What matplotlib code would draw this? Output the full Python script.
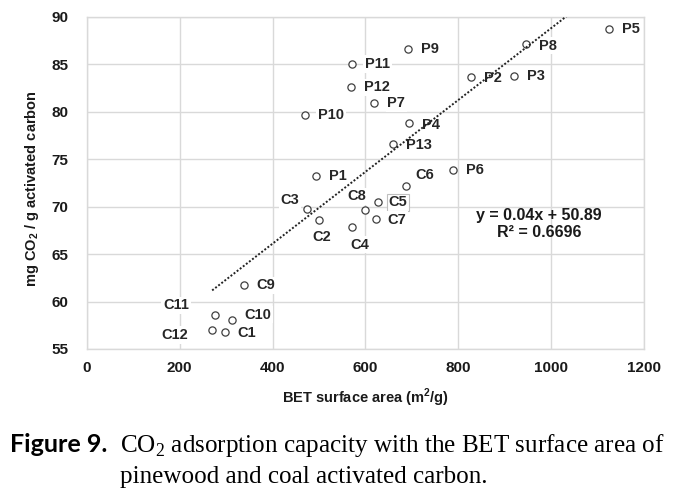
import numpy as np
import matplotlib
matplotlib.use("Agg")
import matplotlib.pyplot as plt

plt.rcParams['mathtext.fontset'] = 'custom'
plt.rcParams['mathtext.rm'] = 'Liberation Serif'
plt.rcParams['mathtext.bf'] = 'Liberation Sans:bold'
plt.rcParams['font.family'] = ['Liberation Sans', 'DejaVu Sans']

# ---- data ----
labels = ["P1", "P2", "P3", "P4", "P5", "P6", "P7", "P8", "P9", "P10", "P11", "P12", "P13",
          "C1", "C2", "C3", "C4", "C5", "C6", "C7", "C8", "C9", "C10", "C11", "C12"]
bet_area = [493, 826, 919, 694, 1123, 789, 619, 946, 691, 470, 571, 568, 659,
            298, 501, 474, 570, 626, 688, 623, 600, 338, 312, 276, 270]
co2_capacity = [73.25, 83.6, 83.8, 78.8, 88.7, 73.85, 80.9, 87.1, 86.55, 79.6, 85.0, 82.55, 76.6,
                56.8, 68.6, 69.7, 67.9, 70.45, 72.15, 68.7, 69.6, 61.7, 58.1, 58.55, 57.0]
x_ticks = [0, 200, 400, 600, 800, 1000, 1200]
y_ticks = [55, 60, 65, 70, 75, 80, 85, 90]
equation_text = "y = 0.04x + 50.89\nR\u00b2 = 0.6696"

# label placement (offset in pixels, alignment)
default_off = (13, 0, 'left')
label_off = {
    "P2": (13, -1, 'left'), "P4": (13, -1.5, 'left'), "P13": (13, -1.5, 'left'),
    "P8": (13, -1.5, 'left'),
    "C6": (18, 11, 'center'), "C3": (-17, 9, 'center'), "C2": (2, -17, 'center'),
    "C8": (-9, 14, 'center'), "C4": (8, -18, 'center'), "C11": (-39, 10, 'center'),
    "C12": (-37, -5, 'center'), "C10": (13, 5, 'left'), "C5": (11, 0, 'left'),
    "C7": (11, -1, 'left'), "C1": (12, -1, 'left'),
}

W, H = 687, 493
fig = plt.figure(figsize=(W / 100, H / 100), dpi=100)
ax = fig.add_axes([86.7 / W, 1 - 349 / H, (644.3 - 86.7) / W, (349 - 16.7) / H])

grid_c = '#d9d9d9'
ax.set_xlim(0, 1200)
ax.set_ylim(55, 90)
ax.set_xticks(x_ticks)
ax.set_yticks(y_ticks)
ax.grid(True, color=grid_c, lw=1.0, zorder=0)
ax.set_axisbelow(True)
for s in ax.spines.values():
    s.set_color(grid_c)
    s.set_linewidth(1.0)
ax.tick_params(length=0, labelsize=11, pad=9, labelcolor='#1a1a1a')
ax.tick_params(axis='y', pad=13)
for t in ax.get_xticklabels() + ax.get_yticklabels():
    t.set_fontweight('bold')

ax.plot(bet_area, co2_capacity, linestyle='none', marker='o', ms=5.2,
        mfc='white', mec='#404040', mew=0.9, zorder=3)

# trendline
slope, intercept = np.polyfit(bet_area, co2_capacity, 1)
xs = np.array([min(bet_area), max(bet_area)])
ax.plot(xs, slope * xs + intercept, color='#222222', lw=1.4,
        linestyle=(0, (1, 1.0)), zorder=5)

for lab, xv, yv in zip(labels, bet_area, co2_capacity):
    dx, dy, ha = label_off.get(lab, default_off)
    edge = '#bfbfbf' if lab == "C5" else 'none'
    ax.annotate(lab, (xv, yv), xytext=(dx, dy), textcoords='offset pixels',
                ha=ha, va='center', fontsize=10.5, fontweight='bold', color='#262626',
                bbox=dict(boxstyle='square,pad=0.12', fc='white', ec=edge, lw=0.8),
                zorder=4, annotation_clip=False)

fig.text(539 / W, 1 - 224 / H, equation_text, ha='center', va='center',
         fontsize=11.5, fontweight='bold', color='#1a1a1a', linespacing=1.1)

fig.text(32 / W, 1 - 189 / H, r"mg CO$_\mathbf{2}$ / g activated carbon", rotation=90,
         ha='center', va='center', fontsize=10.5, fontweight='bold', color='#1a1a1a')
fig.text(365 / W, 1 - 398 / H, r"BET surface area (m$^\mathbf{2}$/g)",
         ha='center', va='center', fontsize=10.5, fontweight='bold', color='#1a1a1a')

# caption
renderer = fig.canvas.get_renderer()
fig_t = fig.text(10 / W, 1 - 452 / H, "Figure 9.", ha='left', va='baseline',
                 fontsize=16, fontweight='bold', family=['Lato', 'DejaVu Sans'], color='black')
bb = fig_t.get_window_extent(renderer)
fig_t.set_fontsize(16 * 98 / bb.width)
cap1 = fig.text(120 / W, 1 - 452 / H,
                r"CO$_\mathrm{2}$ adsorption capacity with the BET surface area of",
                ha='left', va='baseline', fontsize=16, family='Liberation Serif', color='black')
bb = cap1.get_window_extent(renderer)
fs = 16 * 547 / bb.width
cap1.set_fontsize(fs)
fig.text(120 / W, 1 - 483 / H, "pinewood and coal activated carbon.",
         ha='left', va='baseline', fontsize=fs, family='Liberation Serif', color='black')

fig.savefig('out.png', dpi=100, facecolor='white')
